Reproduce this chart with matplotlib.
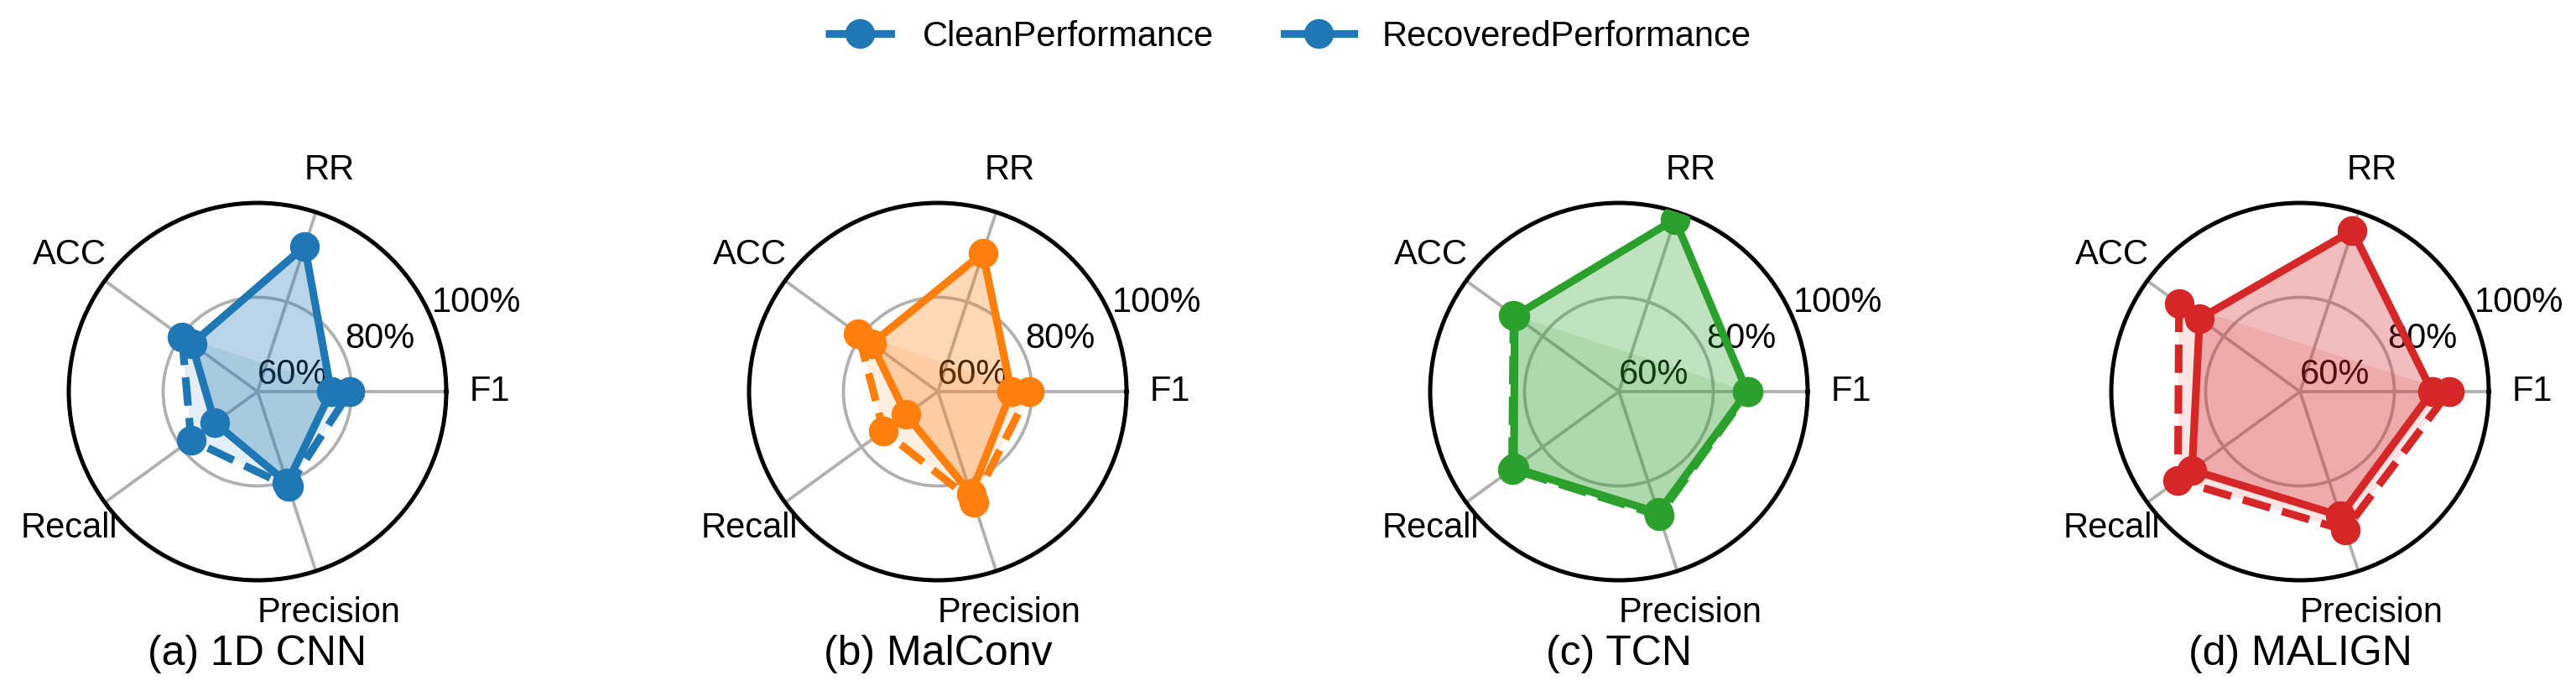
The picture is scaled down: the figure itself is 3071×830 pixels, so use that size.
import numpy as np
import matplotlib
matplotlib.use("Agg")
import matplotlib.pyplot as plt
from matplotlib.lines import Line2D

plt.rcParams['font.family'] = ['Liberation Sans', 'DejaVu Sans']

metrics = ["F1", "RR", "ACC", "Recall", "Precision"]
models = ["(a) 1D CNN", "(b) MalConv", "(c) TCN", "(d) MALIGN"]
colors = ["#1f77b4", "#ff7f0e", "#2ca02c", "#d62728"]

# clean models have no RR value
clean_cnn = [79.6, np.nan, 79.8, 77.4, 81.2]
clean_malconv = [79.4, np.nan, 80.8, 74.2, 84.6]
clean_tcn = [87.4, np.nan, 87.6, 88.0, 87.6]
clean_malign = [91.6, np.nan, 91.7, 92.0, 90.9]

rec_cnn = [75.6, 92.4, 77.2, 71.2, 80.4]
rec_malconv = [75.6, 90.9, 77.3, 68.3, 82.8]
rec_tcn = [87.2, 98.4, 87.3, 87.5, 87.0]
rec_malign = [88.0, 95.9, 86.3, 88.3, 87.7]

clean_all = [clean_cnn, clean_malconv, clean_tcn, clean_malign]
rec_all = [rec_cnn, rec_malconv, rec_tcn, rec_malign]

r_ticks = [60, 80, 100]
r_labels = ["60%", "80%", "100%"]

W, H = 3071, 830
fig = plt.figure(figsize=(W / 300, H / 300), dpi=300)

angles = np.deg2rad(np.arange(len(metrics)) * 360 / len(metrics))
ang_closed = np.append(angles, angles[0])

centers_x = [307, 1118, 1930, 2742]
cy = 467
R = 225

def draw_radar(ax, clean, rec, color):
    clean = np.array(clean, dtype=float)
    rec = np.array(rec, dtype=float)

    cl = np.append(clean, clean[0])
    rc = np.append(rec, rec[0])

    ok = ~np.isnan(clean)
    ax.fill(angles[ok], clean[ok], color=color, alpha=0.12, lw=0, zorder=2)
    ax.fill(angles, rec, color=color, alpha=0.3, lw=0, zorder=2)

    ax.plot(ang_closed, cl, "--", color=color, lw=2.2, marker="o", ms=7.5, zorder=4)
    ax.plot(ang_closed, rc, "-", color=color, lw=2.2, marker="o", ms=7.5, zorder=5)

    ax.set_ylim(60, 100)
    ax.set_yticks(r_ticks)
    ax.set_yticklabels(r_labels, fontsize=10)
    ax.set_rlabel_position(22.5)
    ax.set_xticks(angles)
    ax.set_xticklabels(metrics, fontsize=10)
    ax.tick_params(axis="x", pad=2)
    ax.grid(color="#b0b0b0", lw=0.9)
    ax.spines["polar"].set_linewidth(1.2)
    ax.spines["polar"].set_color("black")


for i in range(4):
    left = (centers_x[i] - R) / W
    bottom = (H - cy - R) / H
    ax = fig.add_axes([left, bottom, 2 * R / W, 2 * R / H], projection="polar")
    draw_radar(ax, clean_all[i], rec_all[i], colors[i])
    fig.text(centers_x[i] / W, 1 - 780 / H, models[i], ha="center", va="center", fontsize=12)

handles = [
    Line2D([0], [0], color=colors[0], ls="--", lw=2.2, marker="o", ms=7.5),
    Line2D([0], [0], color=colors[0], ls="-", lw=2.2, marker="o", ms=7.5),
]
fig.legend(handles, ["CleanPerformance", "RecoveredPerformance"], loc="center",
           bbox_to_anchor=(0.5, 1 - 44 / H), ncol=2, frameon=False, fontsize=10)

fig.savefig("out.png", dpi=300)
